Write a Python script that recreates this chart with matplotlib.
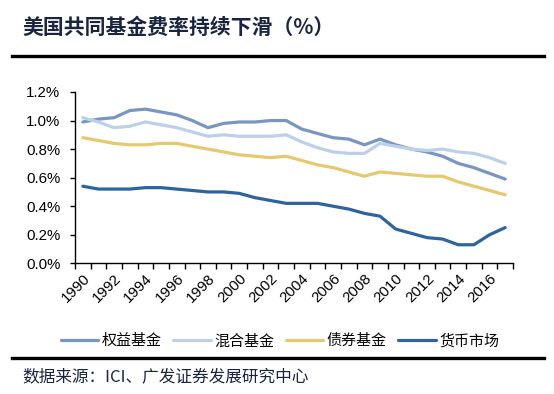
import numpy as np
import matplotlib.pyplot as plt
from matplotlib.lines import Line2D

plt.rcParams['font.family'] = ['Liberation Sans', 'Noto Sans CJK SC', 'DejaVu Sans']

years = list(range(1990, 2018))
equity = [0.99, 1.01, 1.02, 1.07, 1.08, 1.06, 1.04, 1.00, 0.95, 0.98, 0.99, 0.99, 1.00, 1.00,
          0.94, 0.91, 0.88, 0.87, 0.83, 0.87, 0.83, 0.80, 0.78, 0.75, 0.70, 0.67, 0.63, 0.59]
hybrid = [1.02, 0.99, 0.95, 0.96, 0.99, 0.97, 0.95, 0.92, 0.89, 0.90, 0.89, 0.89, 0.89, 0.90,
          0.85, 0.81, 0.78, 0.77, 0.77, 0.84, 0.82, 0.80, 0.79, 0.80, 0.78, 0.77, 0.74, 0.70]
bond = [0.88, 0.86, 0.84, 0.83, 0.83, 0.84, 0.84, 0.82, 0.80, 0.78, 0.76, 0.75, 0.74, 0.75,
        0.72, 0.69, 0.67, 0.64, 0.61, 0.64, 0.63, 0.62, 0.61, 0.61, 0.57, 0.54, 0.51, 0.48]
money = [0.54, 0.52, 0.52, 0.52, 0.53, 0.53, 0.52, 0.51, 0.50, 0.50, 0.49, 0.46, 0.44, 0.42,
         0.42, 0.42, 0.40, 0.38, 0.35, 0.33, 0.24, 0.21, 0.18, 0.17, 0.13, 0.13, 0.20, 0.25]

series = [('权益基金', equity, '#7896c4'),
          ('混合基金', hybrid, '#bcd0e8'),
          ('债券基金', bond, '#e6c96e'),
          ('货币市场', money, '#2d64a0')]

cjk = ['Noto Sans CJK SC', 'DejaVu Sans']
navy = '#1b2540'

fig = plt.figure(figsize=(5.54, 3.94), dpi=100)
ax = fig.add_axes([0.1354, 0.3317, 0.7906, 0.4348])

x = np.arange(len(years))
for name, vals, col in series:
    ax.plot(x, vals, color=col, lw=2.3, label=name, solid_capstyle='round')

ax.set_xlim(-0.5, len(years) - 0.5)
ax.set_ylim(0, 1.2)
yt = np.arange(0, 1.21, 0.2)
ax.set_yticks(yt)
ax.set_yticklabels(['%.1f%%' % v for v in yt], fontsize=10.8)
ax.set_xticks(x[::2])
ax.set_xticklabels([str(y) for y in years[::2]], rotation=45, ha='right',
                   rotation_mode='anchor', fontsize=10.8)
ax.set_xticks(np.arange(-0.5, len(years) + 0.5, 1), minor=True)
ax.tick_params(axis='x', which='major', length=0, pad=6)
ax.tick_params(axis='x', which='minor', length=4, width=1, direction='out')
ax.tick_params(axis='y', length=3.5, width=1, direction='out', pad=7)
for s in ['top', 'right']:
    ax.spines[s].set_visible(False)
ax.spines['left'].set_linewidth(1)
ax.spines['bottom'].set_linewidth(1)

fig.text(0.040, 1 - 27/394, '美国共同基金费率持续下滑（%）', fontsize=15, fontweight='bold',
         color=navy, va='center', family=cjk)
fig.add_artist(Line2D([12/554, 544/554], [1 - 56/394] * 2, color='black', lw=2.4))
fig.add_artist(Line2D([12/554, 544/554], [1 - 358/394] * 2, color='black', lw=2.4))

fig.legend(loc='center', bbox_to_anchor=(280/554, 1 - 341/394), ncol=4, frameon=False,
           handlelength=2.5, handletextpad=0.25, columnspacing=0.75,
           prop={'family': cjk, 'size': 10.8})

fig.text(0.040, 1 - 377/394, '数据来源：ICI、广发证券发展研究中心', fontsize=12,
         color=navy, va='center', family=cjk)

fig.savefig('out.png', dpi=100)
